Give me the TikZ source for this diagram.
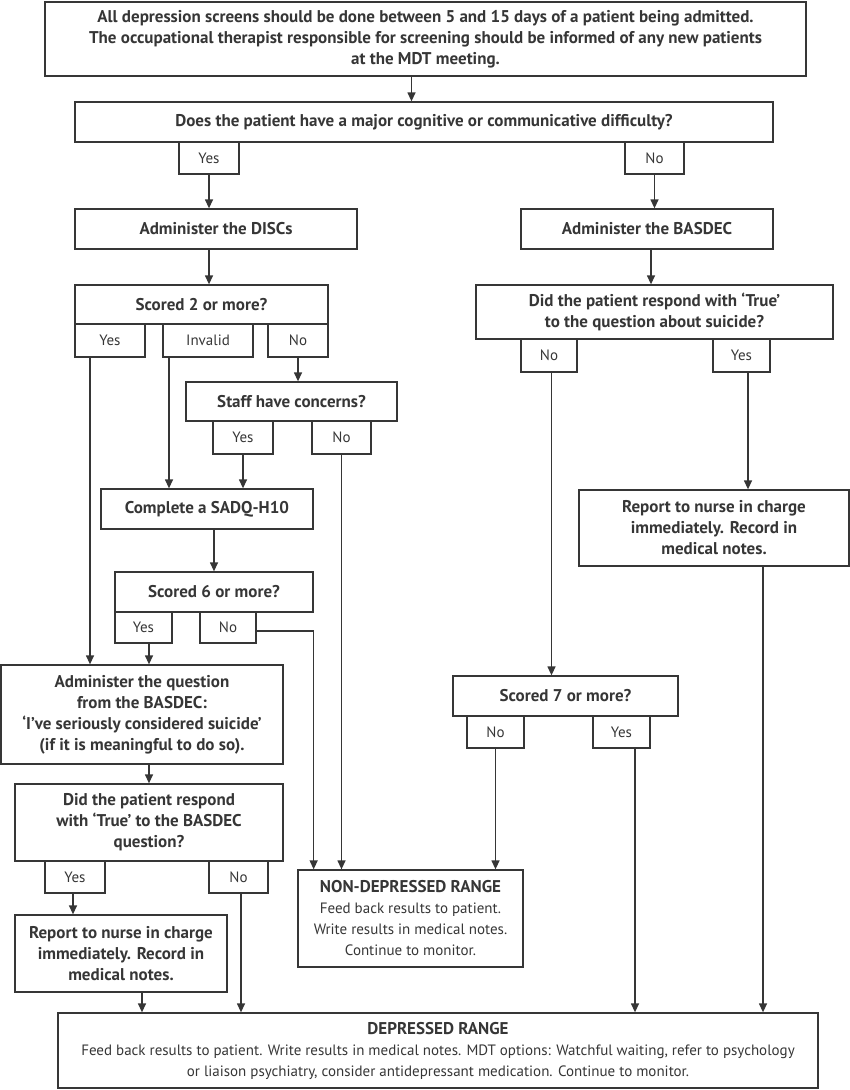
\documentclass[tikz,border=0pt]{standalone}
\usepackage{fontspec}
\setmainfont{PT Sans}
\usetikzlibrary{arrows.meta}

\definecolor{ink}{HTML}{363636}
\newcommand{\fsz}{\fontsize{15}{21}\selectfont}
\newcommand{\fbz}{\fontsize{17}{21}\selectfont\bfseries}

\tikzset{every picture/.style={line width=1.3pt}}
\tikzset{
  box/.style={draw=ink, inner sep=0pt, align=center, text=ink, font=\fbz},
  tag/.style={draw=ink, inner sep=0pt, minimum height=32pt, text=ink, font=\fsz},
  flow/.style={draw=ink, -{Triangle[length=9pt,width=8pt]}},
}

\begin{document}
\begin{tikzpicture}[x=1pt,y=1pt,yscale=-1]
\useasboundingbox (0,0) rectangle (850,1090);

% Top box
\node[box, minimum width=761pt, minimum height=74pt] (intro) at (425.5,39) {All depression screens should be done between 5 and 15 days of a patient being admitted.\\The occupational therapist responsible for screening should be informed of any new patients\\at the MDT meeting.};
% Cognitive question
\node[box, minimum width=698pt, minimum height=40pt] (cogq) at (424,122) {Does the patient have a major cognitive or communicative difficulty?};
\node[tag, minimum width=60pt] (cogyes) at (209,158) {Yes};
\node[tag, minimum width=59pt] (cogno) at (654.5,158) {No};

% Left branch
\node[box, minimum width=282pt, minimum height=40pt] (discs) at (216,229) {Administer the DISCs};
\node[box, minimum width=253pt, minimum height=39pt] (score2) at (201.5,304.5) {Scored 2 or more?};
\node[tag, minimum width=70pt, minimum height=33pt] (s2yes) at (110,340.5) {Yes};
\node[tag, minimum width=90pt, minimum height=33pt] (s2inv) at (208,340.5) {Invalid};
\node[tag, minimum width=60pt, minimum height=33pt] (s2no) at (298,340.5) {No};
\node[box, minimum width=211pt, minimum height=39pt] (staff) at (291.5,401.5) {Staff have concerns?};
\node[tag, minimum width=60pt, minimum height=33pt] (stfyes) at (243,437.5) {Yes};
\node[tag, minimum width=59pt, minimum height=33pt] (stfno) at (341.5,437.5) {No};
\node[box, minimum width=212pt, minimum height=40pt] (sadq) at (207,509) {Complete a SADQ-H10};
\node[box, minimum width=198pt, minimum height=40pt] (score6) at (214,592) {Scored 6 or more?};
\node[tag, minimum width=57pt, minimum height=31pt] (s6yes) at (143.5,627.5) {Yes};
\node[tag, minimum width=56pt, minimum height=31pt] (s6no) at (228,627.5) {No};
\node[box, minimum width=282pt, minimum height=99pt] (askq) at (142,714.5) {Administer the question\\from the BASDEC:\\‘I’ve seriously considered suicide’\\(if it is meaningful to do so).};
\node[box, minimum width=268pt, minimum height=77pt] (didq) at (149,822.5) {Did the patient respond\\with ‘True’ to the BASDEC\\question?};
\node[tag, minimum width=60pt] (dqyes) at (75,877) {Yes};
\node[tag, minimum width=59pt] (dqno) at (238.5,877) {No};
\node[box, minimum width=212pt, minimum height=77pt] (rep1) at (121,953.5) {Report to nurse in charge\\immediately. Record in\\medical notes.};

% Right branch
\node[box, minimum width=252pt, minimum height=40pt] (basdec) at (647,229) {Administer the BASDEC};
\node[box, minimum width=357pt, minimum height=54pt] (dq2) at (654.5,312) {Did the patient respond with ‘True’\\to the question about suicide?};
\node[tag, minimum width=56pt, minimum height=33pt] (dq2no) at (549,355.5) {No};
\node[tag, minimum width=57pt, minimum height=33pt] (dq2yes) at (741.5,355.5) {Yes};
\node[box, minimum width=270pt, minimum height=76pt] (rep2) at (714,528) {Report to nurse in charge\\immediately. Record in\\medical notes.};
\node[box, minimum width=225pt, minimum height=40pt] (score7) at (565.5,696) {Scored 7 or more?};
\node[tag, minimum width=57pt] (s7no) at (495.5,732) {No};
\node[tag, minimum width=57pt] (s7yes) at (621.5,732) {Yes};

% Outcomes
\node[box, font=\fsz, minimum width=225pt, minimum height=97pt] (nondep) at (410.5,918.5) {{\fbz NON-DEPRESSED RANGE}\\Feed back results to patient.\\Write results in medical notes.\\Continue to monitor.};
\node[box, font=\fsz, minimum width=760pt, minimum height=75pt] (depr) at (438,1050.5) {{\fbz DEPRESSED RANGE}\\Feed back results to patient. Write results in medical notes. MDT options: Watchful waiting, refer to psychology\\or liaison psychiatry, consider antidepressant medication. Continue to monitor.};

% Arrows
\draw[flow] ([xshift=-14pt]intro.south) -- ([xshift=-14pt]intro.south |- cogq.north);
\draw[flow] (cogyes.south) -- (cogyes.south |- discs.north);
\draw[flow] (cogno.south) -- (cogno.south |- basdec.north);
\draw[flow] (cogyes.south |- discs.south) -- (cogyes.south |- score2.north);
\draw[flow] ([xshift=4pt]basdec.south) -- ([xshift=4pt]basdec.south |- dq2.north);
\draw[flow] ([xshift=-20pt]s2yes.south) -- ([xshift=-20pt]s2yes.south |- askq.north);
\draw[flow] ([xshift=-39pt]s2inv.south) -- ([xshift=-39pt]s2inv.south |- sadq.north);
\draw[flow] (s2no.south) -- (s2no.south |- staff.north);
\draw[flow] (stfyes.south) -- (stfyes.south |- sadq.north);
\draw[flow] (stfno.south) -- (stfno.south |- nondep.north);
\draw[flow] (score6.north |- sadq.south) -- (score6.north);
\draw[flow] ([xshift=5.5pt]s6yes.south) -- ([xshift=5.5pt]s6yes.south |- askq.north);
\draw[flow] ([yshift=3.5pt]s6no.east) -| (score6.east |- nondep.north);
\draw[flow] (askq.south -| didq.north) -- (didq.north);
\draw[flow] ([xshift=-2pt]dqyes.south) -- ([xshift=-2pt]dqyes.south |- rep1.north);
\draw[flow] ([xshift=2.5pt]dqno.south) -- ([xshift=2.5pt]dqno.south |- depr.north);
\draw[flow] ([xshift=21pt]rep1.south) -- ([xshift=21pt]rep1.south |- depr.north);
\draw[flow] ([xshift=2.5pt]dq2no.south) -- ([xshift=2.5pt]dq2no.south |- score7.north);
\draw[flow] ([xshift=6.5pt]dq2yes.south) -- ([xshift=6.5pt]dq2yes.south |- rep2.north);
\draw[flow] ([xshift=49pt]rep2.south) -- ([xshift=49pt]rep2.south |- depr.north);
\draw[flow] (s7no.south) -- (s7no.south |- nondep.north);
\draw[flow] ([xshift=13.5pt]s7yes.south) -- ([xshift=13.5pt]s7yes.south |- depr.north);

\end{tikzpicture}
\end{document}
